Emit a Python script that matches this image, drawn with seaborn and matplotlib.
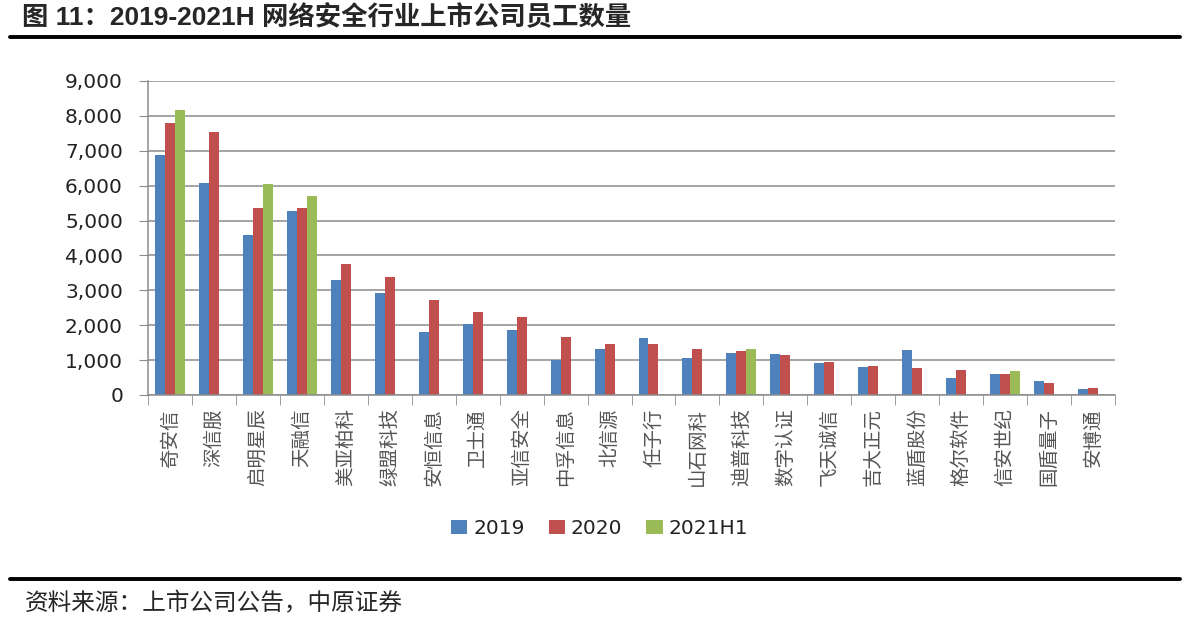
import numpy as np
import pandas as pd
import matplotlib
matplotlib.use('Agg')
import matplotlib.pyplot as plt
import seaborn as sns
from matplotlib.ticker import FuncFormatter, FixedLocator

# data
companies = ["奇安信", "深信服", "启明星辰", "天融信", "美亚柏科", "绿盟科技", "安恒信息",
             "卫士通", "亚信安全", "中孚信息", "北信源", "任子行", "山石网科", "迪普科技",
             "数字认证", "飞天诚信", "吉大正元", "蓝盾股份", "格尔软件", "信安世纪",
             "国盾量子", "安博通"]
staff_2019 = [6880, 6090, 4590, 5270, 3300, 2920, 1800, 2030, 1860, 990, 1330, 1625,
              1060, 1210, 1180, 915, 800, 1300, 500, 615, 415, 175]
staff_2020 = [7800, 7540, 5360, 5360, 3745, 3395, 2715, 2390, 2245, 1655, 1450, 1450,
              1330, 1270, 1155, 940, 830, 770, 715, 615, 350, 210]
staff_2021h1 = [8180, np.nan, 6040, 5710, np.nan, np.nan, np.nan, np.nan, np.nan, np.nan,
                np.nan, np.nan, np.nan, 1310, np.nan, np.nan, np.nan, np.nan, np.nan,
                685, np.nan, np.nan]
periods = ["2019", "2020", "2021H1"]
colors = ["#4F81BD", "#C0504D", "#9BBB59"]

df = pd.DataFrame({
    "company": companies * 3,
    "period": [p for p in periods for _ in companies],
    "staff": staff_2019 + staff_2020 + staff_2021h1,
})

sns.set_style("white")
plt.rcParams['font.family'] = ['DejaVu Sans', 'Noto Sans CJK SC']

fig = plt.figure(figsize=(11.91, 6.18), dpi=100)
ax = fig.add_axes([148 / 1191, (618 - 395) / 618, (1115 - 148) / 1191, 314 / 618])

sns.barplot(data=df, x="company", y="staff", hue="period", hue_order=periods,
            palette=colors, width=0.68, gap=0, errorbar=None, ax=ax,
            saturation=1, linewidth=0)

ax.set_ylim(0, 9000)
ax.set_xlim(-0.5, len(companies) - 0.5)
ax.set_yticks(range(0, 9001, 1000))
ax.yaxis.set_major_formatter(FuncFormatter(lambda v, p: f"{int(v):,}"))
ax.grid(axis="y", color="#8c8c8c", linewidth=1.1)
ax.set_axisbelow(True)
for s in ["top", "right"]:
    ax.spines[s].set_visible(False)
for s in ["left", "bottom"]:
    ax.spines[s].set_color("#8c8c8c")
    ax.spines[s].set_linewidth(1.1)
ax.set_xlabel("")
ax.set_ylabel("")

# y ticks: short outward marks, labels well clear of the axis
ax.tick_params(axis="y", left=True, length=6.5, color="#8c8c8c", labelsize=14.5,
               labelcolor="#222222", pad=11.5)
ax.set_xticks(range(len(companies)))
ax.set_xticklabels(companies, rotation=90, fontsize=14, color="#555555",
                   family=["Noto Sans CJK SC"], fontweight="light")
ax.tick_params(axis="x", bottom=False, pad=6)
ax.xaxis.set_minor_locator(FixedLocator(np.arange(-0.5, len(companies), 1)))
ax.tick_params(axis="x", which="minor", bottom=True, length=7, color="#8c8c8c")

leg = ax.legend(loc="center", bbox_to_anchor=(0.467, -0.425), ncol=3,
                frameon=False, fontsize=14.5, handlelength=0.8, handleheight=0.7,
                handletextpad=0.3, columnspacing=1.2)
for t in leg.get_texts():
    t.set_color("#222222")

# title, rules and source note
fig.text(22 / 1191, 1 - 17 / 618, "图 11：2019-2021H 网络安全行业上市公司员工数量",
         fontsize=19, fontweight="bold", va="center", ha="left",
         family=["Liberation Sans", "Noto Sans CJK SC"])
fig.add_artist(plt.Line2D([10 / 1191, 1180 / 1191], [1 - 37 / 618] * 2,
                          color="black", linewidth=2.8))
fig.add_artist(plt.Line2D([10 / 1191, 1180 / 1191], [1 - 579 / 618] * 2,
                          color="black", linewidth=2.8))
fig.text(25 / 1191, 1 - 604 / 618, "资料来源：上市公司公告，中原证券",
         fontsize=17, va="center", ha="left", family=["Noto Sans CJK SC"])

fig.savefig("out.png", dpi=100)
